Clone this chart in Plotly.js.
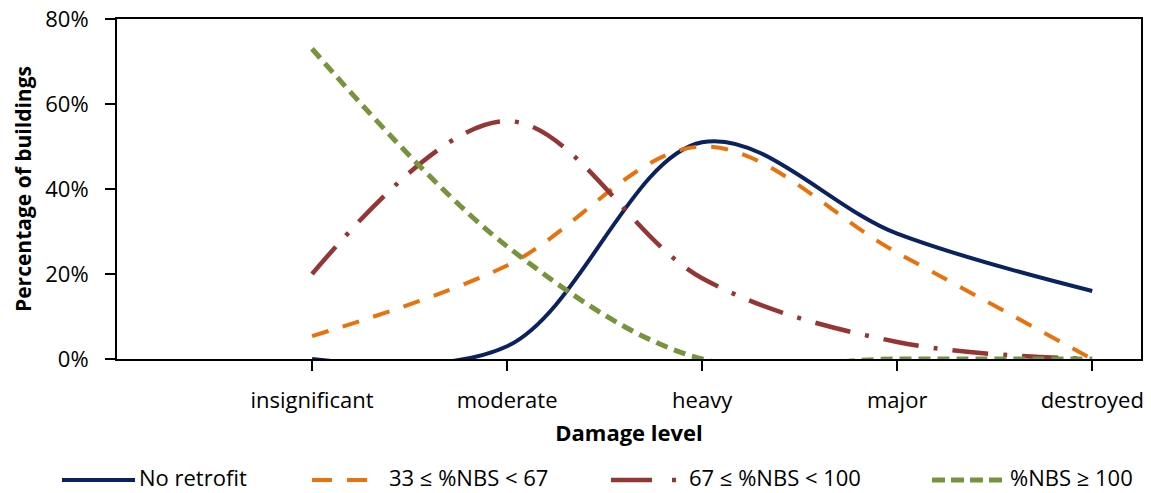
<!DOCTYPE html>
<html>
<head>
<meta charset="utf-8">
<script src="https://cdn.plot.ly/plotly-3.0.1.min.js"></script>
<style>html,body{margin:0;padding:0;background:#fff;}#chart{width:1151px;height:493px;}</style>
</head>
<body>
<div id="chart"></div>
<script>
const categories = ["insignificant", "moderate", "heavy", "major", "destroyed"];
const seriesNames = ["No retrofit", "33 ≤ %NBS < 67", "67 ≤ %NBS < 100", "%NBS ≥ 100"];
const noRetrofit = [0.00, 0.03, 0.51, 0.295, 0.16];
const nbs33to67 = [0.054, 0.22, 0.50, 0.25, 0.00];
const nbs67to100 = [0.20, 0.56, 0.19, 0.04, 0.00];
const nbs100plus = [0.73, 0.265, 0.00, 0.00, 0.00];
const yTickVals = [0, 0.2, 0.4, 0.6, 0.8];
const yTickText = ["0%", "20%", "40%", "60%", "80%"];

const FONT = '"Open Sans", Lato, sans-serif';
const W = 1151, H = 493;
const M = {l: 117, r: 10, t: 19, b: 134};
const plotW = W - M.l - M.r, plotH = H - M.t - M.b;
const px2x = p => (p - M.l) / plotW;
const px2y = p => (H - M.b - p) / plotH;

const styles = [
  {color: '#0b2260', width: 4, dash: 'solid', legendDash: 'solid', lx0: 62, lx1: 135, tx: 137},
  {color: '#e8730c', width: 4, dash: '17px,15px', legendDash: '20px,15px', lx0: 312, lx1: 367, tx: 387},
  {color: '#933634', width: 4.5, dash: '36px,15px,4px,15px', legendDash: '41px,20px,4px,40px', lx0: 611, lx1: 676, tx: 687},
  {color: '#77933c', width: 5, dash: '12px,7px', legendDash: '13px,6px', lx0: 932, lx1: 1006, tx: 1008}
];
const allSeries = [noRetrofit, nbs33to67, nbs67to100, nbs100plus];

const traces = allSeries.map((vals, i) => ({
  type: 'scatter',
  mode: 'lines',
  x: categories,
  y: vals,
  name: seriesNames[i],
  line: {color: styles[i].color, width: styles[i].width, dash: styles[i].dash, shape: 'spline', smoothing: 1},
  hoverinfo: 'x+y+name'
}));

// custom legend (samples + labels)
const legendLineY = px2y(480);
const legendTextY = px2y(477);
const shapes = styles.map(s => ({
  type: 'line', xref: 'paper', yref: 'paper',
  x0: px2x(s.lx0), x1: px2x(s.lx1), y0: legendLineY, y1: legendLineY,
  line: {color: s.color, width: s.width, dash: s.legendDash}
}));
const annotations = styles.map((s, i) => ({
  xref: 'paper', yref: 'paper', x: px2x(s.tx), y: legendTextY,
  xanchor: 'left', yanchor: 'middle', showarrow: false,
  text: seriesNames[i], font: {family: FONT, size: 22, color: '#000'}
}));

const layout = {
  width: W,
  height: H,
  margin: {l: M.l, r: M.r, t: M.t, b: M.b, autoexpand: false},
  paper_bgcolor: '#ffffff',
  plot_bgcolor: '#ffffff',
  font: {family: FONT, size: 22, color: '#000'},
  showlegend: false,
  shapes: shapes,
  annotations: annotations,
  xaxis: {
    type: 'category',
    categoryorder: 'array',
    categoryarray: categories,
    range: [-1, 4.25],
    showline: true, linecolor: '#000', linewidth: 2, mirror: true,
    ticks: 'outside', ticklen: 10, tickwidth: 2, tickcolor: '#000',
    ticklabelstandoff: 11,
    showgrid: false, zeroline: false,
    tickfont: {family: FONT, size: 22, color: '#000'},
    title: {text: '<b>Damage level</b>', font: {family: FONT, size: 22, color: '#000'}, standoff: 12}
  },
  yaxis: {
    range: [0, 0.8],
    tickvals: yTickVals,
    ticktext: yTickText,
    showline: true, linecolor: '#000', linewidth: 2, mirror: true,
    ticks: 'outside', ticklen: 10, tickwidth: 2, tickcolor: '#000',
    ticklabelstandoff: 12,
    showgrid: false, zeroline: false,
    tickfont: {family: FONT, size: 22, color: '#000'},
    title: {text: '<b>Percentage of buildings</b>', font: {family: FONT, size: 21, color: '#000'}, standoff: 8}
  }
};

Plotly.newPlot('chart', traces, layout, {displayModeBar: false, staticPlot: true});
</script>
</body>
</html>
